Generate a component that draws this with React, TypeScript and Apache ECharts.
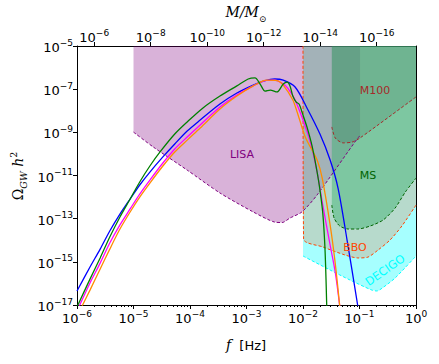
import React, { useEffect, useRef } from 'react';
import * as echarts from 'echarts';

// All values are log10 of frequency [Hz] and log10 of Omega_GW h^2.
const xMinLog = -6;
const xMaxLog = 0;
const yMinLog = -17;
const yMaxLog = -5;
const yTickExponents = [-17, -15, -13, -11, -9, -7, -5];
const topTickExponents = [-16, -14, -12, -10, -8, -6];
// log10(M/Msun) at the right (f = 1 Hz) and left (f = 1e-6 Hz) edges
const topAxisMinLog = -17.39;
const topAxisMaxLog = -5.39;

// Sensitivity regions
const lisaLogF = [-5.0, -4.65, -4.05, -3.47, -2.88, -2.5, -2.37, -2.23, -2.02, -1.75, -1.03, -0.99];
const lisaLogOmega = [-8.99, -9.68, -10.75, -11.81, -12.69, -13.16, -13.18, -12.97, -12.69, -11.9, -9.26, -9.17];

const decigoLogF = [-2.0, -1.52, -1.17, -0.78, -0.69, -0.6, -0.37, 0];
const decigoLogOmega = [-14.73, -15.38, -15.84, -16.31, -16.35, -16.22, -15.75, -14.73];

const bboLogF = [-2.0, -1.99, -1.65, -1.26, -1.03, -0.85, -0.67, -0.46, -0.25, 0];
const bboLogOmega = [-5.0, -13.94, -14.31, -14.68, -14.82, -14.78, -14.45, -13.99, -13.34, -12.37];

const msLogF = [-1.49, -1.45, -1.35, -1.2, -1.03, -0.81, -0.58, -0.37, -0.19, 0];
const msLogOmega = [-12.37, -12.97, -13.34, -13.48, -13.48, -13.34, -13.06, -12.51, -11.77, -11.12];

const m100LogF = [-1.49, -1.43, -1.29, -1.13, -0.99, 0];
const m100LogOmega = [-8.75, -9.26, -9.49, -9.45, -9.26, -7.36];

// GW spectra
const blueLogF = [-6.0, -5.77, -5.59, -5.42, -5.24, -5.06, -4.89, -4.71, -4.48, -4.27, -4.05, -3.82, -3.47, -3.17, -2.88, -2.67, -2.5, -2.35, -2.14, -1.93, -1.7, -1.52, -1.38, -1.22, -1.03];
const blueLogOmega = [-16.35, -15.24, -14.41, -13.57, -12.79, -12.09, -11.44, -10.84, -10.14, -9.54, -8.94, -8.43, -7.69, -7.18, -6.81, -6.6, -6.53, -6.58, -6.9, -7.87, -9.08, -10.28, -11.58, -13.99, -17.05];

const greenLogF = [-6.0, -5.77, -5.59, -5.42, -5.24, -5.06, -4.89, -4.71, -4.53, -4.27, -4.05, -3.77, -3.47, -3.17, -2.97, -2.85, -2.76, -2.67, -2.58, -2.46, -2.35, -2.28, -2.23, -2.18, -2.12, -2.07, -2.0, -1.93, -1.84, -1.75, -1.7, -1.65, -1.61, -1.58];
const greenLogOmega = [-17.09, -15.8, -14.82, -13.85, -12.92, -12.09, -11.3, -10.56, -9.91, -9.08, -8.52, -7.87, -7.32, -6.85, -6.53, -6.48, -6.76, -7.09, -7.04, -7.13, -6.76, -6.67, -6.85, -7.32, -7.6, -7.69, -8.2, -8.75, -9.63, -10.84, -11.67, -12.74, -14.45, -17.05];

const magentaLogF = [-5.96, -5.77, -5.59, -5.42, -5.24, -5.06, -4.89, -4.71, -4.48, -4.27, -4.05, -3.82, -3.47, -3.17, -2.88, -2.67, -2.5, -2.35, -2.27, -2.14, -2.0, -1.88, -1.75, -1.65, -1.52, -1.43, -1.35];
const magentaLogOmega = [-17.05, -15.98, -15.06, -14.13, -13.29, -12.55, -11.86, -11.21, -10.42, -9.77, -9.22, -8.66, -7.83, -7.27, -6.85, -6.6, -6.58, -6.76, -6.95, -7.5, -8.43, -9.36, -10.84, -12.37, -14.22, -15.47, -17.05];

const orangeLogF = [-5.91, -5.77, -5.59, -5.42, -5.24, -5.06, -4.89, -4.71, -4.48, -4.27, -4.05, -3.82, -3.47, -3.17, -2.88, -2.64, -2.46, -2.35, -2.18, -2.11, -2.02, -1.96, -1.88, -1.75, -1.66, -1.52, -1.43, -1.35];
const orangeLogOmega = [-17.05, -16.31, -15.33, -14.41, -13.48, -12.69, -12.0, -11.35, -10.56, -9.91, -9.36, -8.8, -7.92, -7.32, -6.85, -6.58, -6.6, -6.81, -7.5, -8.01, -8.75, -9.22, -9.63, -10.28, -11.12, -13.29, -15.06, -17.05];

const toPoints = (lf: number[], lo: number[]) => lf.map((v, i) => [Math.pow(10, v), Math.pow(10, lo[i])]);

const expText = (e: number) => `{b|10}{s|${e < 0 ? '\u2212' + -e : e}}`;

const tickRich = {
  b: { fontSize: 13, fontFamily: 'DejaVu Sans', color: '#000', verticalAlign: 'bottom', lineHeight: 16 },
  s: { fontSize: 9, fontFamily: 'DejaVu Sans', color: '#000', verticalAlign: 'top', lineHeight: 9 },
};

const minorTicks: number[] = [];
for (let n = xMinLog; n < xMaxLog; n++) {
  for (let k = 2; k <= 9; k++) minorTicks.push(n + Math.log10(k));
}

function regionSeries(name: string, lf: number[], lo: number[], lineColor: string, fill: string) {
  return {
    type: 'line',
    name,
    data: toPoints(lf, lo),
    xAxisIndex: 0,
    yAxisIndex: 0,
    symbol: 'none',
    smooth: 0.25,
    silent: true,
    lineStyle: { color: lineColor, width: 1, type: [3, 2] },
    areaStyle: { color: fill, origin: 'end', opacity: 1 },
    z: 2,
  };
}

function curveSeries(name: string, lf: number[], lo: number[], color: string) {
  return {
    type: 'line',
    name,
    data: toPoints(lf, lo),
    xAxisIndex: 0,
    yAxisIndex: 0,
    symbol: 'none',
    smooth: 0.3,
    silent: true,
    lineStyle: { color, width: 1.3 },
    z: 5,
  };
}

const axisLineStyle = { color: '#000', width: 1 };

export default function App() {
  const ref = useRef<HTMLDivElement>(null);
  useEffect(() => {
    if (!ref.current) return;
    const chart = echarts.init(ref.current, undefined, { renderer: 'svg' });
    chart.setOption({
      animation: false,
      backgroundColor: '#fff',
      grid: { left: 77, right: 23, top: 46, bottom: 59 },
      xAxis: [
        {
          type: 'log',
          min: Math.pow(10, xMinLog),
          max: Math.pow(10, xMaxLog),
          position: 'bottom',
          axisLine: { show: true, onZero: false, lineStyle: axisLineStyle },
          axisTick: { show: true, length: 4, lineStyle: axisLineStyle },
          axisLabel: {
            margin: 4,
            formatter: (v: number) => expText(Math.round(Math.log10(v))),
            rich: tickRich,
          },
          splitLine: { show: false },
        },
        {
          type: 'value',
          min: xMinLog,
          max: xMaxLog,
          position: 'bottom',
          axisLine: { show: false, onZero: false },
          axisTick: { show: true, length: 2, customValues: minorTicks, lineStyle: axisLineStyle },
          axisLabel: { show: false },
          splitLine: { show: false },
        },
        {
          type: 'value',
          min: topAxisMinLog,
          max: topAxisMaxLog,
          inverse: true,
          position: 'top',
          axisLine: { show: true, onZero: false, lineStyle: axisLineStyle },
          axisTick: { show: true, length: 4, customValues: topTickExponents, lineStyle: axisLineStyle },
          axisLabel: {
            margin: 2,
            customValues: topTickExponents,
            formatter: (v: number) => expText(Math.round(v)),
            rich: tickRich,
          },
          splitLine: { show: false },
        },
      ],
      yAxis: [
        {
          type: 'log',
          min: Math.pow(10, yMinLog),
          max: Math.pow(10, yMaxLog),
          position: 'left',
          axisLine: { show: true, onZero: false, lineStyle: axisLineStyle },
          axisTick: { show: false },
          axisLabel: { show: false },
          splitLine: { show: false },
        },
        {
          type: 'value',
          min: yMinLog,
          max: yMaxLog,
          position: 'left',
          axisLine: { show: false, onZero: false },
          axisTick: { show: true, length: 4, customValues: yTickExponents, lineStyle: axisLineStyle },
          axisLabel: {
            margin: 4,
            customValues: yTickExponents,
            formatter: (v: number) => expText(Math.round(v)),
            rich: tickRich,
          },
          splitLine: { show: false },
        },
        {
          type: 'value',
          min: yMinLog,
          max: yMaxLog,
          position: 'right',
          axisLine: { show: true, onZero: false, lineStyle: axisLineStyle },
          axisTick: { show: false },
          axisLabel: { show: false },
          splitLine: { show: false },
        },
      ],
      series: [
        regionSeries('LISA', lisaLogF, lisaLogOmega, '#800080', 'rgba(128,0,128,0.3)'),
        regionSeries('DECIGO', decigoLogF, decigoLogOmega, '#00ffff', 'rgba(0,255,255,0.35)'),
        regionSeries('BBO', bboLogF, bboLogOmega, '#ff4500', 'rgba(255,69,0,0.2)'),
        regionSeries('MS', msLogF, msLogOmega, '#006400', 'rgba(60,179,113,0.47)'),
        regionSeries('M100', m100LogF, m100LogOmega, '#a52a2a', 'rgba(0,30,15,0.11)'),
        curveSeries('blue', blueLogF, blueLogOmega, '#0000ff'),
        curveSeries('magenta', magentaLogF, magentaLogOmega, '#ff00ff'),
        curveSeries('orange', orangeLogF, orangeLogOmega, '#ff8c00'),
        curveSeries('green', greenLogF, greenLogOmega, '#008000'),
      ],
      graphic: [
        { type: 'text', x: 242, y: 154, z: 10, style: { text: 'LISA', fill: '#800080', fontSize: 11, fontFamily: 'DejaVu Sans', align: 'center', verticalAlign: 'middle' } },
        { type: 'text', x: 375, y: 90, z: 10, style: { text: 'M100', fill: '#a52a2a', fontSize: 11, fontFamily: 'DejaVu Sans', align: 'center', verticalAlign: 'middle' } },
        { type: 'text', x: 368, y: 175, z: 10, style: { text: 'MS', fill: '#006400', fontSize: 11, fontFamily: 'DejaVu Sans', align: 'center', verticalAlign: 'middle' } },
        { type: 'text', x: 355, y: 247, z: 10, style: { text: 'BBO', fill: '#ff4500', fontSize: 11, fontFamily: 'DejaVu Sans', align: 'center', verticalAlign: 'middle' } },
        { type: 'text', x: 385, y: 270, z: 10, rotation: (35 * Math.PI) / 180, style: { text: 'DECIGO', fill: '#00ffff', fontSize: 11.5, fontFamily: 'DejaVu Sans', align: 'center', verticalAlign: 'middle' } },
        {
          type: 'text', x: 246, y: 345, z: 10,
          style: {
            text: '{i|f}{n|  [Hz]}',
            align: 'center', verticalAlign: 'middle',
            rich: {
              i: { fontSize: 14, fontFamily: 'DejaVu Serif', fontStyle: 'italic', fill: '#000' },
              n: { fontSize: 13, fontFamily: 'DejaVu Sans', fill: '#000' },
            },
          },
        },
        {
          type: 'text', x: 246, y: 14, z: 10,
          style: {
            text: '{i|M/M}{sub|\u2299}',
            align: 'center', verticalAlign: 'middle',
            rich: {
              i: { fontSize: 14, fontFamily: 'DejaVu Serif', fontStyle: 'italic', fill: '#000', verticalAlign: 'top', lineHeight: 18 },
              sub: { fontSize: 9, fontFamily: 'DejaVu Serif', fill: '#000', verticalAlign: 'bottom', lineHeight: 10 },
            },
          },
        },
        {
          type: 'text', x: 18, y: 176, z: 10, rotation: Math.PI / 2,
          style: {
            text: '{o|\u03A9}{sub|GW}{i| h}{sup|2}',
            align: 'center', verticalAlign: 'middle',
            rich: {
              o: { fontSize: 14, fontFamily: 'DejaVu Serif', fill: '#000', verticalAlign: 'middle', lineHeight: 20 },
              sub: { fontSize: 9.5, fontFamily: 'DejaVu Serif', fontStyle: 'italic', fill: '#000', verticalAlign: 'bottom', lineHeight: 10 },
              i: { fontSize: 14, fontFamily: 'DejaVu Serif', fontStyle: 'italic', fill: '#000', verticalAlign: 'middle', lineHeight: 20 },
              sup: { fontSize: 9.5, fontFamily: 'DejaVu Serif', fill: '#000', verticalAlign: 'top', lineHeight: 10 },
            },
          },
        },
      ],
    });
    return () => chart.dispose();
  }, []);
  return <div ref={ref} style={{ position: 'absolute', left: 0, top: 0, width: 439, height: 364 }} />;
}
